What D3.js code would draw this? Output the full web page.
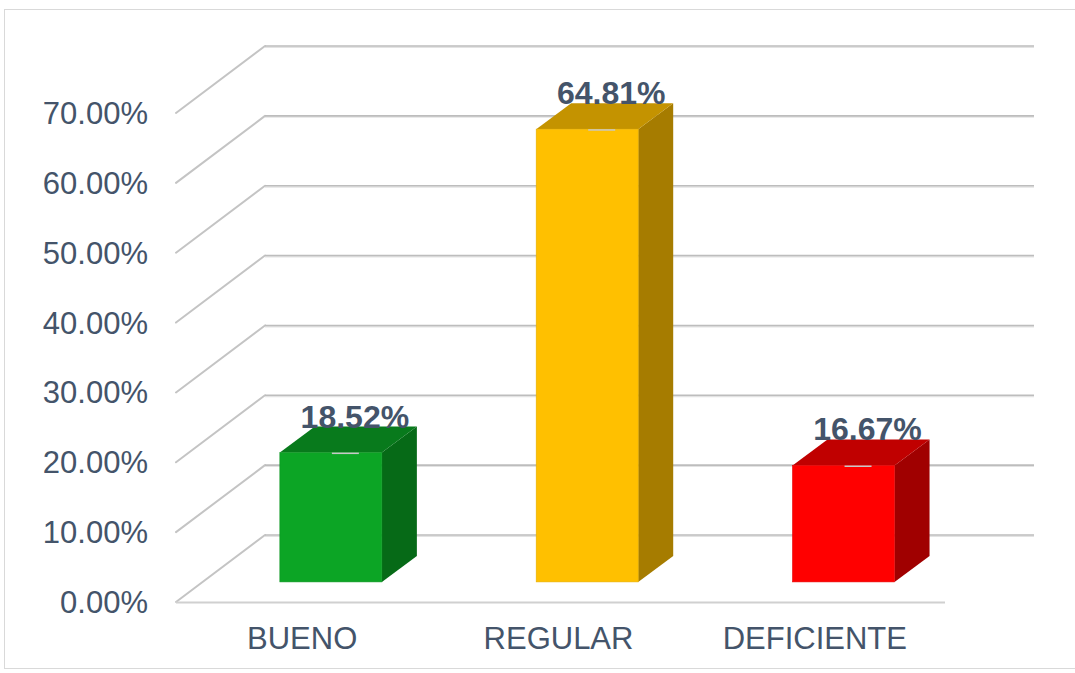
<!DOCTYPE html>
<html><head><meta charset="utf-8">
<script src="https://cdn.jsdelivr.net/npm/d3@7"></script>
<style>body{margin:0;background:#fff}svg{display:block}</style>
</head><body>
<svg id="chart" width="1075" height="673"></svg>
<script>
const categories = ["BUENO", "REGULAR", "DEFICIENTE"];
const values = [0.1852, 0.6481, 0.1667];
const valueLabels = ["18.52%", "64.81%", "16.67%"];
const tickValues = [0, 0.1, 0.2, 0.3, 0.4, 0.5, 0.6, 0.7];
const frontColors = ["#0CA525", "#FFC000", "#FF0000"];
const topColors = ["#087A1C", "#C49300", "#C00000"];
const sideColors = ["#066A17", "#A67C00", "#A00000"];

const svg = d3.select("#chart");
const textColor = "#44546A";
const font = "'Liberation Sans', Arial, sans-serif";

// outer border
svg.append("rect").attr("x", 4.5).attr("y", 9.5).attr("width", 1085).attr("height", 659)
  .attr("fill", "none").attr("stroke", "#D9D9D9").attr("stroke-width", 1);

const y = d3.scaleLinear().domain([0, 0.7]).range([602, 113]);
const x = d3.scaleBand().domain(categories).range([176, 945]).padding(0);
const depth = { dx: 89, dy: -67 };
const barFront = 0.30, barDepth = { dx: 35, dy: -26 };
const barW = x.bandwidth() * 0.398;

// diagonal (side wall) gridlines + back wall gridlines
const g = svg.append("g");
tickValues.forEach(t => {
  const fy = y(t);
  g.append("line").attr("x1", 176).attr("y1", fy).attr("x2", 176 + depth.dx).attr("y2", fy + depth.dy)
    .attr("stroke", "#C4C4C4").attr("stroke-width", 2).attr("stroke-linecap", "round");
  g.append("line").attr("x1", 176 + depth.dx).attr("y1", fy + depth.dy + 1.2).attr("x2", 945 + depth.dx).attr("y2", fy + depth.dy + 1.2)
    .attr("stroke", "#E3E3E3").attr("stroke-width", 1.5);
  g.append("line").attr("x1", 176 + depth.dx).attr("y1", fy + depth.dy).attr("x2", 945 + depth.dx).attr("y2", fy + depth.dy)
    .attr("stroke", "#BDBDBD").attr("stroke-width", 1.6);
});
// front floor edge
g.append("line").attr("x1", 176).attr("y1", y(0) + 0.5).attr("x2", 945).attr("y2", y(0) + 0.5)
  .attr("stroke", "#D0D0D0").attr("stroke-width", 2.2);

// y-axis labels
svg.append("g").selectAll("text").data(tickValues).join("text")
  .attr("x", 148).attr("y", d => y(d) + 11)
  .attr("text-anchor", "end").attr("font-family", font).attr("font-size", 31)
  .attr("fill", textColor).text(d => (d * 100).toFixed(2) + "%");

// x-axis labels
svg.append("g").selectAll("text").data(categories).join("text")
  .attr("x", d => x(d) + x.bandwidth() / 2 - 2).attr("y", 649)
  .attr("text-anchor", "middle").attr("font-family", font).attr("font-size", 31)
  .attr("fill", textColor).text(d => d);

// bars
const bars = svg.append("g");
categories.forEach((c, i) => {
  const ox = barFront * depth.dx, oy = barFront * depth.dy;
  const cx = x(c) + x.bandwidth() / 2 + ox;
  const x0 = cx - barW / 2, x1 = cx + barW / 2;
  const yb = y(0) + oy, yt = y(values[i]) + oy;
  const dx = barDepth.dx, dy = barDepth.dy;
  // side
  bars.append("polygon").attr("points", [[x1, yb], [x1 + dx, yb + dy], [x1 + dx, yt + dy], [x1, yt]].join(" "))
    .attr("fill", sideColors[i]);
  // top
  bars.append("polygon").attr("points", [[x0, yt], [x0 + dx, yt + dy], [x1 + dx, yt + dy], [x1, yt]].join(" "))
    .attr("fill", topColors[i]);
  // front
  bars.append("rect").attr("x", x0).attr("y", yt).attr("width", barW).attr("height", yb - yt)
    .attr("fill", frontColors[i]).attr("stroke", d3.color(frontColors[i]).darker(0.3)).attr("stroke-width", 0.6);
  // small marker line on top edge
  bars.append("line").attr("x1", cx + 1).attr("y1", yt + 0.8).attr("x2", cx + 28).attr("y2", yt + 0.8)
    .attr("stroke", "#C8C8C8").attr("stroke-width", 1.5);
  // value label
  bars.append("text").attr("x", cx + 24).attr("y", yt + dy + 1)
    .attr("text-anchor", "middle").attr("font-family", font).attr("font-size", 32).attr("font-weight", "bold")
    .attr("fill", textColor).text(valueLabels[i]);
});
</script>
</body></html>
